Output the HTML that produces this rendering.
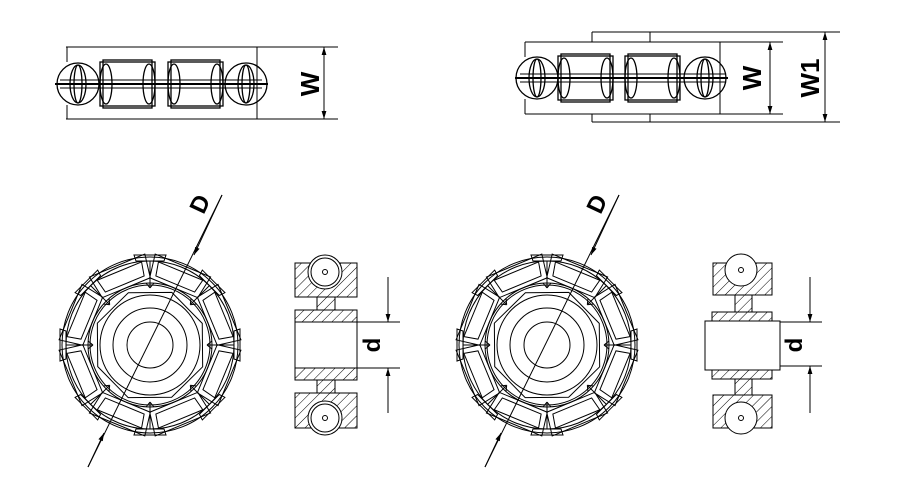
<!DOCTYPE html>
<html><head><meta charset="utf-8"><style>
html,body{margin:0;padding:0;background:#fff;}
svg{display:block;}
text{font-family:"Liberation Sans",sans-serif;font-weight:bold;fill:#000;}
</style></head><body>
<svg width="901" height="487" viewBox="0 0 901 487" xmlns="http://www.w3.org/2000/svg">
<defs>
<marker id="ar" viewBox="0 0 10 10" refX="10" refY="5" markerWidth="8" markerHeight="8" orient="auto-start-reverse" markerUnits="userSpaceOnUse"><path d="M0,2 L10,5 L0,8 z" fill="#000"/></marker>
<pattern id="hat" width="7" height="7" patternUnits="userSpaceOnUse" patternTransform="rotate(45)"><line x1="0" y1="0" x2="0" y2="7" stroke="#000" stroke-width="1"/></pattern>
<g id="roller" fill="none" stroke="#000" stroke-width="1.3">
<rect x="0" y="0" width="55" height="44"/>
<rect x="3" y="-2" width="49" height="48"/>
<ellipse cx="6" cy="22" rx="6" ry="20"/>
<ellipse cx="49" cy="22" rx="6" ry="20"/>
</g>
<g id="endc" fill="none" stroke="#000" stroke-width="1.3">
<circle cx="0" cy="0" r="21"/>
<ellipse cx="0" cy="0" rx="8" ry="19"/>
<ellipse cx="0" cy="0" rx="4" ry="19"/>
</g>
<g id="rb">
<polygon points="-30,-86 30,-86 26,-62 -26,-62"/>
<polygon points="-24,-80 24,-80 21,-66 -21,-66"/>
</g>
<g id="seg"><polygon points="-16,-90 16,-90 14,-84 -14,-84"/><line x1="0" y1="-57" x2="0" y2="-84"/><line x1="-4" y1="-62" x2="0" y2="-57"/><line x1="4" y1="-62" x2="0" y2="-57"/></g>
<g id="wheel" fill="none" stroke="#000" stroke-width="1">
<circle r="88"/><circle r="84"/><circle r="62"/><circle r="60"/>
<circle r="50"/><circle r="37"/><circle r="23"/>
<polygon points="57,0 40,40 0,57 -40,40 -57,0 -40,-40 0,-57 40,-40" transform="rotate(22.5)"/>
<use href="#rb" transform="rotate(22.5)"/><use href="#rb" transform="rotate(67.5)"/><use href="#rb" transform="rotate(112.5)"/><use href="#rb" transform="rotate(157.5)"/>
<use href="#rb" transform="rotate(202.5)"/><use href="#rb" transform="rotate(247.5)"/><use href="#rb" transform="rotate(292.5)"/><use href="#rb" transform="rotate(337.5)"/>
<use href="#seg"/><use href="#seg" transform="rotate(45)"/><use href="#seg" transform="rotate(90)"/><use href="#seg" transform="rotate(135)"/>
<use href="#seg" transform="rotate(180)"/><use href="#seg" transform="rotate(225)"/><use href="#seg" transform="rotate(270)"/><use href="#seg" transform="rotate(315)"/>
</g>
</defs>
<g fill="none" stroke="#000" stroke-width="1">
<line x1="66" y1="47" x2="338" y2="47"/><line x1="66" y1="119" x2="338" y2="119"/>
<line x1="67" y1="47" x2="67" y2="62"/><line x1="67" y1="105" x2="67" y2="119"/>
<line x1="257" y1="47" x2="257" y2="119"/>
<line x1="55" y1="84" x2="268" y2="84" stroke-width="2"/>
<line x1="60" y1="80" x2="262" y2="80"/><line x1="60" y1="88" x2="262" y2="88"/>
<use href="#endc" transform="translate(78,84)"/>
<use href="#roller" transform="translate(100,62)"/>
<use href="#roller" transform="translate(168,62)"/>
<use href="#endc" transform="translate(246,84)"/>
<line x1="324" y1="47" x2="324" y2="119" marker-start="url(#ar)" marker-end="url(#ar)"/>
<line x1="592" y1="32" x2="840" y2="32"/><line x1="592" y1="122" x2="840" y2="122"/>
<line x1="592" y1="32" x2="592" y2="42"/><line x1="650" y1="32" x2="650" y2="42"/>
<line x1="592" y1="114" x2="592" y2="122"/><line x1="650" y1="114" x2="650" y2="122"/>
<line x1="525" y1="42" x2="783" y2="42"/><line x1="525" y1="114" x2="783" y2="114"/>
<line x1="525" y1="42" x2="525" y2="57"/><line x1="525" y1="99" x2="525" y2="114"/>
<line x1="720" y1="42" x2="720" y2="114"/>
<line x1="515" y1="78" x2="728" y2="78" stroke-width="2"/>
<line x1="520" y1="74" x2="725" y2="74"/><line x1="520" y1="82" x2="725" y2="82"/>
<use href="#endc" transform="translate(537,78)"/>
<use href="#roller" transform="translate(558,56)"/>
<use href="#roller" transform="translate(625,56)"/>
<use href="#endc" transform="translate(705,78)"/>
<line x1="770" y1="42" x2="770" y2="114" marker-start="url(#ar)" marker-end="url(#ar)"/>
<line x1="825" y1="32" x2="825" y2="122" marker-start="url(#ar)" marker-end="url(#ar)"/>
<use href="#wheel" transform="translate(150,345)"/>
<use href="#wheel" transform="translate(547,345)"/>
<line x1="88" y1="467" x2="222" y2="195"/>
<line x1="222" y1="195" x2="194" y2="255" marker-end="url(#ar)"/>
<line x1="88" y1="467" x2="104" y2="433" marker-end="url(#ar)"/>
<line x1="485" y1="467" x2="619" y2="195"/>
<line x1="619" y1="195" x2="591" y2="255" marker-end="url(#ar)"/>
<line x1="485" y1="467" x2="501" y2="433" marker-end="url(#ar)"/>
<rect x="295" y="263" width="62" height="34" fill="url(#hat)"/>
<rect x="317" y="297" width="18" height="13" fill="url(#hat)"/>
<rect x="295" y="310" width="62" height="70" fill="url(#hat)"/>
<rect x="295" y="322" width="62" height="46" fill="#fff"/>
<rect x="317" y="380" width="18" height="13" fill="url(#hat)"/>
<rect x="295" y="393" width="62" height="35" fill="url(#hat)"/>
<circle cx="325" cy="272" r="17" fill="#fff"/><circle cx="325" cy="272" r="14"/><circle cx="325" cy="272" r="2.5"/>
<circle cx="325" cy="418" r="17" fill="#fff"/><circle cx="325" cy="418" r="14"/><circle cx="325" cy="418" r="2.5"/>
<line x1="357" y1="322" x2="400" y2="322"/><line x1="357" y1="368" x2="400" y2="368"/>
<line x1="388" y1="277" x2="388" y2="322" marker-end="url(#ar)"/>
<line x1="388" y1="413" x2="388" y2="368" marker-end="url(#ar)"/>
<rect x="713" y="263" width="59" height="32" fill="url(#hat)"/>
<rect x="735" y="295" width="17" height="17" fill="url(#hat)"/>
<rect x="712" y="312" width="60" height="9" fill="url(#hat)"/>
<rect x="705" y="321" width="75" height="49" fill="#fff"/>
<rect x="712" y="370" width="60" height="9" fill="url(#hat)"/>
<rect x="735" y="379" width="17" height="16" fill="url(#hat)"/>
<rect x="713" y="395" width="59" height="33" fill="url(#hat)"/>
<circle cx="741" cy="270" r="16" fill="#fff"/><circle cx="741" cy="270" r="2.5"/>
<circle cx="741" cy="418" r="16" fill="#fff"/><circle cx="741" cy="418" r="2.5"/>
<line x1="780" y1="322" x2="822" y2="322"/><line x1="780" y1="366" x2="822" y2="366"/>
<line x1="810" y1="277" x2="810" y2="322" marker-end="url(#ar)"/>
<line x1="810" y1="413" x2="810" y2="366" marker-end="url(#ar)"/>
</g>
<text x="0" y="0" font-size="26" text-anchor="middle" transform="translate(310,84) rotate(-90)" dy="9">W</text>
<text x="0" y="0" font-size="26" text-anchor="middle" transform="translate(752,78) rotate(-90)" dy="9">W</text>
<text x="0" y="0" font-size="26" text-anchor="middle" transform="translate(810,78) rotate(-90)" dy="9">W1</text>
<text x="0" y="0" font-size="24" text-anchor="middle" transform="translate(200,204) rotate(-65)" dy="8">D</text>
<text x="0" y="0" font-size="24" text-anchor="middle" transform="translate(597,204) rotate(-65)" dy="8">D</text>
<text x="0" y="0" font-size="24" text-anchor="middle" transform="translate(372,345) rotate(-90)" dy="8">d</text>
<text x="0" y="0" font-size="24" text-anchor="middle" transform="translate(794,345) rotate(-90)" dy="8">d</text>
</svg>
</body></html>
